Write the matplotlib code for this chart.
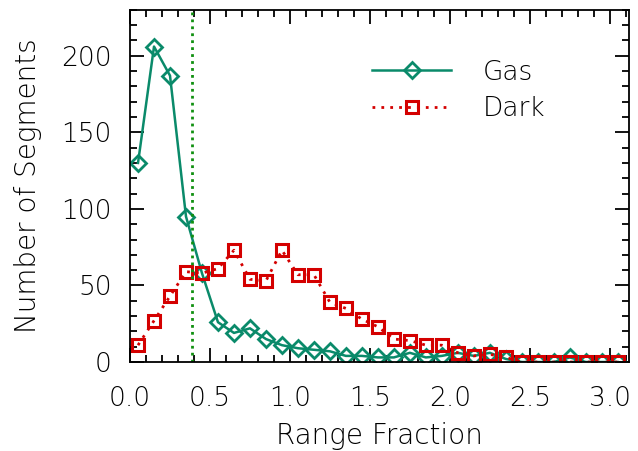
import matplotlib
matplotlib.use("Agg")
import matplotlib.pyplot as plt
import numpy as np
from matplotlib.ticker import MultipleLocator

plt.rcParams['font.family'] = ['DejaVu Sans']
plt.rcParams['font.weight'] = 'light'
plt.rcParams['axes.labelweight'] = 'light'

range_fraction = [0.05, 0.15, 0.25, 0.35, 0.45, 0.55, 0.65, 0.75, 0.85, 0.95,
                  1.05, 1.15, 1.25, 1.35, 1.45, 1.55, 1.65, 1.75, 1.85, 1.95,
                  2.05, 2.15, 2.25, 2.35, 2.45, 2.55, 2.65, 2.75, 2.85, 2.95, 3.05]
gas_counts = [130, 206, 187, 95, 58, 26, 19, 22, 15, 11,
              9, 8, 7, 4, 4, 3, 3, 6, 3, 4,
              6, 4, 6, 2, 0, 0, 0, 3, 0, 0, 0]
dark_counts = [11, 27, 43, 59, 58, 61, 73, 54, 53, 73,
               57, 57, 39, 35, 28, 23, 15, 14, 11, 11,
               6, 4, 5, 3, 0, 0, 0, 0, 0, 0, 0]
cut_value = 0.39

gas_color = '#0a8a6a'
dark_color = '#d40000'

fig = plt.figure(figsize=(6.38, 4.51), dpi=100)
ax = fig.add_axes([0.2038, 0.1973, 0.782, 0.781])

ax.plot(range_fraction, gas_counts, color=gas_color, lw=1.8, marker='D', ms=7.8,
        mfc='none', mec=gas_color, mew=2, label='Gas')
ax.plot(range_fraction, dark_counts, color=dark_color, lw=2, linestyle=(0, (1, 2.2)),
        marker='s', ms=9.3, mfc='none', mec=dark_color, mew=2.2, label='Dark')
ax.axvline(cut_value, color='#109010', lw=2, linestyle=(0, (1, 1.5)))

ax.set_xlim(0, 3.12)
ax.set_ylim(0, 230)
ax.xaxis.set_major_locator(MultipleLocator(0.5))
ax.xaxis.set_minor_locator(MultipleLocator(0.1))
ax.yaxis.set_major_locator(MultipleLocator(50))
ax.yaxis.set_minor_locator(MultipleLocator(10))
ax.set_xticks([0.0, 0.5, 1.0, 1.5, 2.0, 2.5, 3.0])
ax.set_xticklabels(['0.0', '0.5', '1.0', '1.5', '2.0', '2.5', '3.0'])
ax.tick_params(which='both', direction='in', top=True, right=True, labelsize=19,
               width=1.3, labelcolor='black')
ax.tick_params(which='major', length=10)
ax.tick_params(which='minor', length=5)
ax.tick_params(axis='x', which='major', pad=17.5)
ax.tick_params(axis='y', which='major', pad=13)
for s in ax.spines.values():
    s.set_linewidth(1.3)

ax.set_xlabel('Range Fraction', fontsize=20, labelpad=8)
ax.set_ylabel('Number of Segments', fontsize=20, labelpad=14)

ax.legend(loc='upper left', bbox_to_anchor=(0.438, 0.926), frameon=False, fontsize=19,
          handlelength=3.0, handletextpad=1.2, labelspacing=0.45)

fig.savefig('out.png', dpi=100)
